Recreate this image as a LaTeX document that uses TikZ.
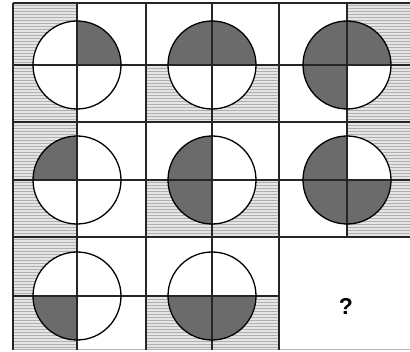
\documentclass[tikz,border=0pt]{standalone}
\usepackage{fontspec}
\usetikzlibrary{patterns}

\newfontfamily\askfont{Liberation Sans}
\definecolor{quadgray}{gray}{0.42}

\pgfdeclarepatternformonly{stripes}{\pgfqpoint{-1pt}{-1pt}}{\pgfqpoint{4pt}{4pt}}{\pgfqpoint{3pt}{3pt}}%
{\pgfsetlinewidth{1.4pt}\pgfpathmoveto{\pgfqpoint{-1pt}{1.5pt}}\pgfpathlineto{\pgfqpoint{4pt}{1.5pt}}\pgfusepath{stroke}}

\begin{document}
\begin{tikzpicture}[x=1pt,y=-1pt,
    hatch/.style={fill=gray!20,postaction={pattern=stripes,pattern color=gray!62}},
    gridline/.style={line width=1.4pt,color=black!85},
    ring/.style={line width=1.3pt,color=black},
    dark/.style={fill=quadgray}]
      \useasboundingbox (0,0) rectangle (410,352);

      % shaded quarters of the cells
      \fill[hatch] (13,3) rectangle (77,122);
      \fill[hatch] (146,65) rectangle (279,122);
      \fill[hatch] (347,3) rectangle (410,122);
      \fill[hatch] (13,122) rectangle (77,237);
      \fill[hatch] (146,180) rectangle (279,237);
      \fill[hatch] (347,122) rectangle (410,237);
      \fill[hatch] (13,237) rectangle (77,350);
      \fill[hatch] (146,296) rectangle (279,350);

      % circles
      \fill[white] (77,65) circle[radius=44];
      \fill[white] (212,65) circle[radius=44];
      \fill[white] (347,65) circle[radius=44];
      \fill[white] (77,180) circle[radius=44];
      \fill[white] (212,180) circle[radius=44];
      \fill[white] (347,180) circle[radius=44];
      \fill[white] (77,296) circle[radius=44];
      \fill[white] (212,296) circle[radius=44];

      % row 1
      \fill[dark] (77,65) -- ++(-90:44) arc[start angle=-90,end angle=0,radius=44] -- cycle;
      \fill[dark] (212,65) -- ++(180:44) arc[start angle=180,end angle=360,radius=44] -- cycle;
      \fill[dark] (347,65) -- ++(90:44) arc[start angle=90,end angle=360,radius=44] -- cycle;
      % row 2
      \fill[dark] (77,180) -- ++(180:44) arc[start angle=180,end angle=270,radius=44] -- cycle;
      \fill[dark] (212,180) -- ++(90:44) arc[start angle=90,end angle=270,radius=44] -- cycle;
      \fill[dark] (347,180) -- ++(0:44) arc[start angle=0,end angle=270,radius=44] -- cycle;
      % row 3
      \fill[dark] (77,296) -- ++(90:44) arc[start angle=90,end angle=180,radius=44] -- cycle;
      \fill[dark] (212,296) -- ++(0:44) arc[start angle=0,end angle=180,radius=44] -- cycle;

      % grid
      \draw[gridline] (13,3) -- (410,3);
      \draw[gridline] (13,65) -- (410,65);
      \draw[gridline] (13,122) -- (410,122);
      \draw[gridline] (13,180) -- (410,180);
      \draw[gridline] (13,237) -- (410,237);
      \draw[gridline] (13,296) -- (279,296);
      \draw[line width=1pt,color=gray!60] (13,350) -- (410,350);

      \draw[gridline] (13,3) -- (13,350);
      \draw[gridline] (77,3) -- (77,350);
      \draw[gridline] (146,3) -- (146,350);
      \draw[gridline] (212,3) -- (212,350);
      \draw[gridline] (279,3) -- (279,350);
      \draw[gridline] (347,3) -- (347,237);

      \draw[ring] (77,65) circle[radius=44];
      \draw[ring] (212,65) circle[radius=44];
      \draw[ring] (347,65) circle[radius=44];
      \draw[ring] (77,180) circle[radius=44];
      \draw[ring] (212,180) circle[radius=44];
      \draw[ring] (347,180) circle[radius=44];
      \draw[ring] (77,296) circle[radius=44];
      \draw[ring] (212,296) circle[radius=44];

      \node[font=\askfont\bfseries\fontsize{23}{27}\selectfont] (ask) at (346,306) {?};
\end{tikzpicture}
\end{document}
